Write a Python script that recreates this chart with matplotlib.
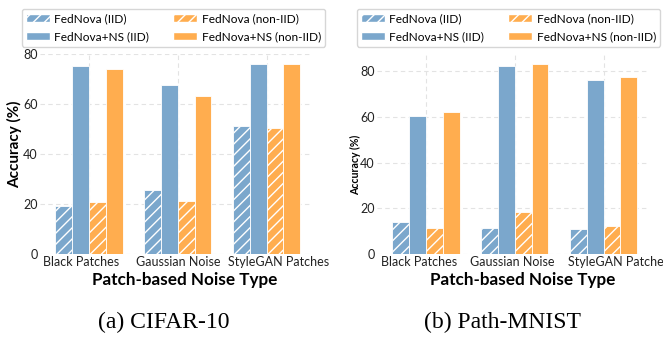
import matplotlib
matplotlib.use("Agg")
import matplotlib.pyplot as plt
import matplotlib.transforms as mtransforms
from matplotlib.patches import Patch
import numpy as np

plt.rcParams['font.family'] = ['Lato', 'DejaVu Sans']

categories = ["Black Patches", "Gaussian Noise", "StyleGAN Patches"]
series_names = ["FedNova (IID)", "FedNova+NS (IID)", "FedNova (non-IID)", "FedNova+NS (non-IID)"]

cifar_fednova_iid = [19.4, 25.7, 51.1]
cifar_ns_iid = [75.2, 67.5, 76.3]
cifar_fednova_noniid = [21.0, 21.4, 50.5]
cifar_ns_noniid = [74.3, 63.1, 76.3]

path_fednova_iid = [14.1, 11.5, 10.8]
path_ns_iid = [60.3, 82.5, 76.4]
path_fednova_noniid = [11.5, 18.5, 12.2]
path_ns_noniid = [62.0, 83.0, 77.7]

BLUE = "#7BA7CC"
ORANGE = "#FFAD4F"
TICK_FS = 9.0
LEG_FS = 8.6

fig = plt.figure(figsize=(6.63, 3.38), dpi=100)
plt.rcParams['hatch.color'] = 'white'
plt.rcParams['hatch.linewidth'] = 1.0

def draw(ax, vals, ylab_size, label_offsets):
    x = np.arange(len(categories))
    w = 0.19
    colors = [BLUE, BLUE, ORANGE, ORANGE]
    hatches = ['///', None, '///', None]
    for i, v in enumerate(vals):
        ax.bar(x + (i - 1.5) * w, v, w, color=colors[i], edgecolor='white',
               linewidth=0.6, hatch=hatches[i], zorder=3)
    ax.set_xlim(-0.55, 2.5)
    ax.set_xticks(x)
    ax.set_xticklabels([""] * len(categories))
    base = ax.get_xaxis_transform()
    for xi, cat, dx in zip(x, categories, label_offsets):
        tr = base + mtransforms.ScaledTranslation(dx / 100, -2.5 / 100, fig.dpi_scale_trans)
        ax.text(xi, 0, cat, transform=tr, ha='center', va='top', fontsize=TICK_FS,
                color='#222222', clip_on=False)
    ax.tick_params(axis='both', length=0, pad=1.5, labelsize=TICK_FS, colors='#222222')
    ax.grid(True, linestyle=(0, (4, 3)), color='#e3e3e3', linewidth=0.8, zorder=0)
    for s in ax.spines.values():
        s.set_visible(False)
    ax.set_xlabel("Patch-based Noise Type", fontsize=12.3, fontweight='bold')
    ax.set_ylabel("Accuracy (%)", fontsize=ylab_size, fontweight='bold')

ax1 = fig.add_axes([40 / 663, 1 - 254 / 338, 271 / 663, 200 / 338])
draw(ax1, [cifar_fednova_iid, cifar_ns_iid, cifar_fednova_noniid, cifar_ns_noniid], 11, [-8, 1, 12])
ax1.set_yticks([0, 20, 40, 60, 80])
ax1.xaxis.set_label_coords((185 - 40) / 271, -(280 - 254) / 200)
ax1.xaxis.label.set_va('center')
ax1.yaxis.set_label_coords(-(40 - 15) / 271, (254 - 144) / 200)
ax1.yaxis.label.set_va('center')

ax2 = fig.add_axes([377 / 663, 1 - 254 / 338, 271 / 663, 199 / 338])
draw(ax2, [path_fednova_iid, path_ns_iid, path_fednova_noniid, path_ns_noniid], 7.6, [-7, -2, 15])
ax2.set_yticks([0, 20, 40, 60, 80])
ax2.xaxis.set_label_coords((523 - 377) / 271, -(280 - 254) / 199)
ax2.xaxis.label.set_va('center')
ax2.yaxis.set_label_coords(-(377 - 356) / 271, (254 - 165) / 199)
ax2.yaxis.label.set_va('center')

handles = [Patch(facecolor=BLUE, edgecolor='white', hatch='///'),
           Patch(facecolor=BLUE, edgecolor='white'),
           Patch(facecolor=ORANGE, edgecolor='white', hatch='///'),
           Patch(facecolor=ORANGE, edgecolor='white')]
for cx in (173.5 / 663, 508.5 / 663):
    fig.legend(handles, series_names, loc='upper center', bbox_to_anchor=(cx, 1 - 3 / 338),
               ncol=2, fontsize=LEG_FS, frameon=True, handlelength=2.0, columnspacing=2.0,
               labelspacing=0.6, borderpad=0.35, handletextpad=0.4, fancybox=True,
               edgecolor='#cccccc')

fig.text(164 / 663, 1 - 322 / 338, "(a) CIFAR-10", ha='center', va='center',
         fontsize=17, family=['Liberation Serif'])
fig.text(503 / 663, 1 - 322 / 338, "(b) Path-MNIST", ha='center', va='center',
         fontsize=17, family=['Liberation Serif'])

fig.savefig("out.png", dpi=100)
